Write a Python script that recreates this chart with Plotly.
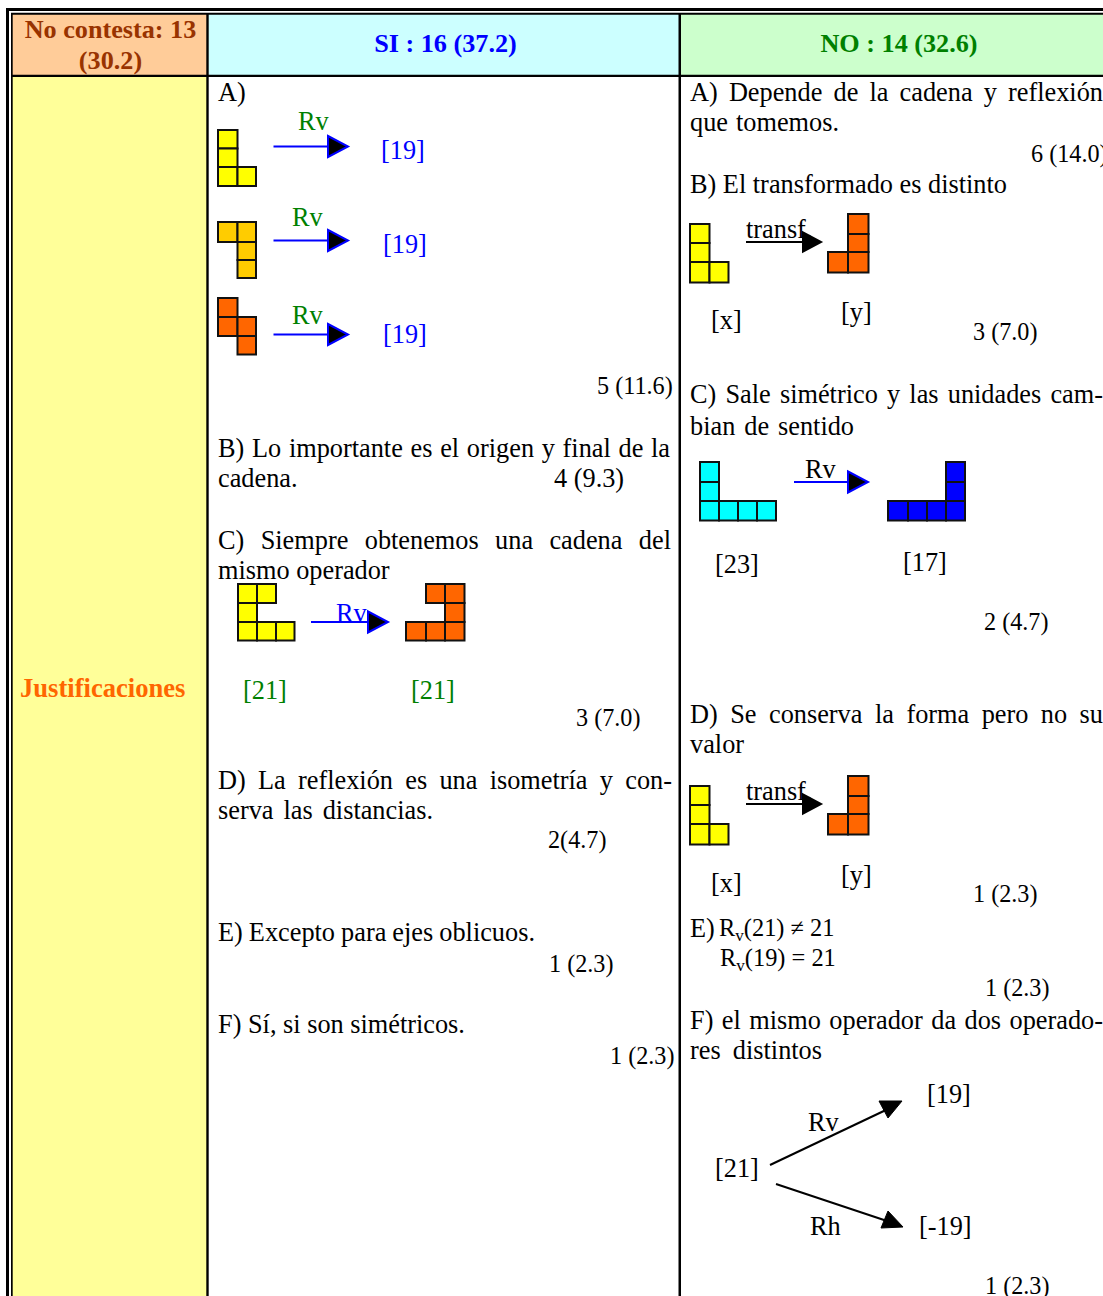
import plotly.graph_objects as go

FONT = "Liberation Serif"
FS = 26.3       # running text
FS_NUM = 24.2   # counts in the cells
FS_EQ = 24.4    # formulas
FS_BOLD = 26.2
FS_SIDE = 26.6
TEXT_DY = 1
BLACK, BLUE, GREEN = "#000000", "#0000FF", "#008000"

# ---- table colours / frame
HEADER_FILL = ["#FFCC99", "#CCFFFF", "#CCFFCC"]
LABEL_FILL = "#FFFF99"

# ---- header and side label: (x, y, text, colour, anchor)
HEADERS = [
    (110.5, 30, "<b>No contesta: 13</b>", "#993300", "c"),
    (110.5, 61, "<b>(30.2)</b>", "#993300", "c"),
    (445.5, 44, "<b>SI : 16 (37.2)</b>", BLUE, "c"),
    (899, 44, "<b>NO : 14 (32.6)</b>", GREEN, "c"),
]
SIDE_LABEL = (20, 689, "<b>Justificaciones</b>", "#FF6600")

# ---- plain text: (x, y, text, colour)
PLAIN = [
    (218, 93, "A)", BLACK),
    (298, 122, "Rv", GREEN), (292, 218, "Rv", GREEN), (292, 316, "Rv", GREEN),
    (381, 151, "[19]", BLUE), (383, 245, "[19]", BLUE), (383, 335, "[19]", BLUE),
    (218, 479, "cadena.", BLACK), (554, 479, "4 (9.3)", BLACK),
    (218, 571, "mismo operador", BLACK),
    (336, 614, "Rv", BLUE),
    (243, 691, "[21]", GREEN), (411, 691, "[21]", GREEN),
    (218, 1025, "F) Sí, si son simétricos.", BLACK),
    (690, 185, "B) El transformado es distinto", BLACK),
    (746, 230, "transf.", BLACK),
    (711, 321, "[x]", BLACK), (841, 313, "[y]", BLACK),
    (805, 470, "Rv", BLACK),
    (715, 565, "[23]", BLACK), (903, 563, "[17]", BLACK),
    (690, 745, "valor", BLACK),
    (746, 792, "transf.", BLACK),
    (711, 884, "[x]", BLACK), (841, 876, "[y]", BLACK),
    (690, 929, "E)", BLACK),
    (927, 1095, "[19]", BLACK), (808, 1123, "Rv", BLACK), (715, 1169, "[21]", BLACK),
    (810, 1227, "Rh", BLACK), (919, 1227, "[-19]", BLACK),
]

# ---- counts (percent): (x, y, text)
COUNTS = [
    (597, 387, "5 (11.6)"), (576, 719, "3 (7.0)"), (548, 841, "2(4.7)"),
    (549, 965, "1 (2.3)"), (610, 1057, "1 (2.3)"), (1031, 155, "6 (14.0)"),
    (973, 333, "3 (7.0)"), (984, 623, "2 (4.7)"), (973, 895, "1 (2.3)"),
    (985, 989, "1 (2.3)"), (985, 1287, "1 (2.3)"),
]

# ---- formulas: (x, y, text)
FORMULAS = [
    (719, 929, "R<sub>v</sub>(21) ≠ 21"),
    (720, 959, "R<sub>v</sub>(19) = 21"),
]

# ---- justified lines: (x start, x end, y, text)
JUSTIFIED = [
    (218, 670, 449, "B) Lo importante es el origen y final de la"),
    (218, 671, 541, "C) Siempre obtenemos una cadena del"),
    (218, 672, 781, "D) La reflexión es una isometría y con-"),
    (218, 433, 811, "serva las distancias."),
    (218, 535, 933, "E) Excepto para ejes oblicuos."),
    (690, 1103, 93, "A) Depende de la cadena y reflexión"),
    (690, 839, 123, "que tomemos."),
    (690, 1103, 395, "C) Sale simétrico y las unidades cam-"),
    (690, 854, 427, "bian de sentido"),
    (690, 1103, 715, "D) Se conserva la forma pero no su"),
    (690, 1103, 1021, "F) el mismo operador da dos operado-"),
    (690, 822, 1051, "res distintos"),
]

# ---- block figures: cells (col, row), colour, column lines, row lines
L3 = [(0, 0), (0, 1), (0, 2), (1, 2)]
J3 = [(1, 0), (1, 1), (0, 2), (1, 2)]
PIECES = [
    (L3, "#FFFF00", [218, 237.5, 256], [130, 148.5, 167, 186]),
    ([(0, 0), (1, 0), (1, 1), (1, 2)], "#FFCC00", [218, 237.5, 256], [222, 242, 260, 278]),
    ([(0, 0), (0, 1), (1, 1), (1, 2)], "#FF6600", [218, 237.5, 256], [298, 317, 336, 354.5]),
    ([(0, 0), (1, 0), (0, 1), (0, 2), (1, 2), (2, 2)], "#FFFF00", [238, 257, 276, 294.5], [584, 603, 622, 640.5]),
    ([(1, 0), (2, 0), (2, 1), (0, 2), (1, 2), (2, 2)], "#FF6600", [406, 426, 445, 464.5], [584, 603, 622, 640.5]),
    (L3, "#FFFF00", [690, 709.5, 728.5], [224, 243, 262, 282.5]),
    (J3, "#FF6600", [828, 848, 868.5], [214, 234, 252, 272.5]),
    ([(0, 0), (0, 1), (0, 2), (1, 2), (2, 2), (3, 2)], "#00FFFF", [700, 719, 738, 757, 776], [462, 482, 501, 520.5]),
    ([(3, 0), (3, 1), (0, 2), (1, 2), (2, 2), (3, 2)], "#0000FF", [888, 908, 927, 946, 965], [462, 482, 501, 520.5]),
    (L3, "#FFFF00", [690, 709.5, 728.5], [786, 805, 824, 844.5]),
    (J3, "#FF6600", [828, 848, 868.5], [776, 796, 814, 834.5]),
]

# ---- horizontal arrows: tail x, head base x, tip x, y, half height, colour
H_ARROWS = [
    (273.5, 328, 348, 146.5, 10.5, BLUE),
    (273.5, 328, 348, 240.5, 10.5, BLUE),
    (273.5, 328, 348, 334.5, 10.5, BLUE),
    (311, 368, 388, 622, 10.5, BLUE),
    (746, 803, 821, 242, 9.5, BLACK),
    (794, 848, 868, 482, 10.5, BLUE),
    (746, 803, 821, 804, 9.5, BLACK),
]
# ---- diagonal arrows: tail, line end, head triangle
D_ARROWS = [
    ((770, 1165), (888, 1109), [(902, 1101), (879, 1101), (888, 1118)]),
    ((776, 1184), (890, 1222), [(903, 1227), (888, 1211), (881, 1228)]),
]

WIDTHS = {" ": .25, "-": .333, ")": .333, ",": .25, ".": .25,
          "a": .444, "b": .5, "c": .444, "d": .5, "e": .444, "é": .444, "f": .333, "g": .5, "h": .5,
          "i": .278, "í": .278, "j": .278, "k": .5, "l": .278, "m": .778, "n": .5, "o": .5, "ó": .5,
          "p": .5, "q": .5, "r": .333, "s": .389, "t": .278, "u": .5, "v": .5, "w": .722, "x": .5,
          "y": .5, "z": .444, "A": .722, "B": .667, "C": .667, "D": .722, "E": .611, "F": .556, "L": .611, "S": .556}


def text_width(s):
    return sum(WIDTHS.get(c, .5) for c in s) * FS


xs, ys, texts, colours, sizes = [], [], [], [], []


def put(x, y, t, c, s):
    xs.append(x); ys.append(y + TEXT_DY); texts.append(t); colours.append(c); sizes.append(s)


for x, y, t, c in PLAIN:
    put(x, y, t, c, FS)
for x, y, t in COUNTS:
    put(x, y, t, BLACK, FS_NUM)
for x, y, t in FORMULAS:
    put(x, y, t, BLACK, FS_EQ)
for x0, x1, y, line in JUSTIFIED:
    words = line.split(" ")
    gap = (x1 - x0 - sum(text_width(w) for w in words)) / (len(words) - 1)
    x = x0
    for w in words:
        put(x, y, w, BLACK, FS)
        x += text_width(w) + gap
put(SIDE_LABEL[0], SIDE_LABEL[1], SIDE_LABEL[2], SIDE_LABEL[3], FS_SIDE)

fig = go.Figure()
shapes = []


def rect(x0, y0, x1, y1, fill):
    shapes.append(dict(type="rect", x0=x0, y0=y0, x1=x1, y1=y1, fillcolor=fill, line_width=0, layer="below"))


# frame
rect(6, 8, 1103, 1296, BLACK)
rect(9, 11, 1103, 1296, "#FFFFFF")
rect(11, 12.7, 1103, 1296, BLACK)
rect(12.7, 14.7, 206.3, 74.7, HEADER_FILL[0])
rect(208.7, 14.7, 678.5, 74.7, HEADER_FILL[1])
rect(681, 14.7, 1103, 74.7, HEADER_FILL[2])
rect(12.7, 77, 206.3, 1296, LABEL_FILL)
rect(208.7, 77, 678.5, 1296, "#FFFFFF")
rect(681, 77, 1103, 1296, "#FFFFFF")

for cells, fill, cols, rows in PIECES:
    for c, r in cells:
        shapes.append(dict(type="rect", x0=cols[c], x1=cols[c + 1], y0=rows[r], y1=rows[r + 1],
                           fillcolor=fill, line=dict(color="#111111", width=2)))

for tail, base, tip, y, h, col in H_ARROWS:
    shapes.append(dict(type="line", x0=tail, x1=base, y0=y, y1=y, line=dict(color=col, width=2)))
    shapes.append(dict(type="path", path=f"M{base},{y - h} L{tip},{y} L{base},{y + h} Z",
                       fillcolor=BLACK, line=dict(color=col, width=2)))
for (tx, ty), (ex, ey), tri in D_ARROWS:
    shapes.append(dict(type="line", x0=tx, y0=ty, x1=ex, y1=ey, line=dict(color=BLACK, width=2)))
    p = "M" + " L".join(f"{a},{b}" for a, b in tri) + " Z"
    shapes.append(dict(type="path", path=p, fillcolor=BLACK, line=dict(color=BLACK, width=1)))

fig.add_trace(go.Scatter(x=xs, y=ys, text=texts, mode="text", textposition="middle right",
                         textfont=dict(family=FONT, size=sizes, color=colours), hoverinfo="skip"))
fig.add_trace(go.Scatter(x=[h[0] for h in HEADERS], y=[h[1] + TEXT_DY for h in HEADERS], text=[h[2] for h in HEADERS],
                         mode="text", textposition="middle center",
                         textfont=dict(family=FONT, size=FS_BOLD, color=[h[3] for h in HEADERS]), hoverinfo="skip"))

fig.update_layout(
    width=1103, height=1296, margin=dict(l=0, r=0, t=0, b=0), autosize=False,
    paper_bgcolor="#FFFFFF", plot_bgcolor="#FFFFFF", showlegend=False, shapes=shapes,
    xaxis=dict(range=[0, 1103], visible=False, fixedrange=True),
    yaxis=dict(range=[1296, 0], visible=False, fixedrange=True),
)
fig.write_html("out.html", config=dict(displayModeBar=False),
               post_script="document.body.style.margin='0';document.documentElement.style.overflow='hidden';")
